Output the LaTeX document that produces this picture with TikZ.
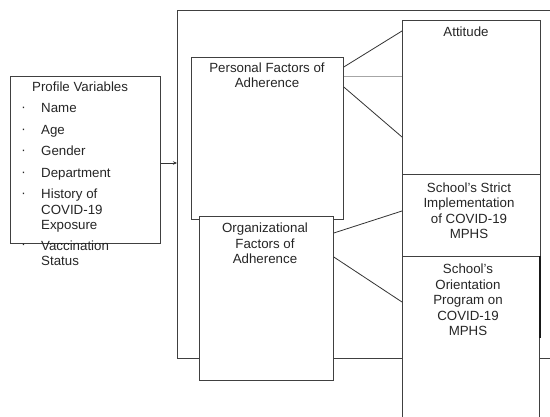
\documentclass[tikz,border=0pt]{standalone}
\usepackage{fontspec}
\setmainfont{Liberation Sans}
\usetikzlibrary{arrows.meta}

\begin{document}
\begin{tikzpicture}[x=1pt, y=-1pt,
    every node/.style={inner sep=0pt, text=black!85, font=\fontsize{13.3pt}{15.6pt}\selectfont},
    box/.style={draw=black!75, line width=0.8pt, fill=white, anchor=north west},
    link/.style={draw=black!80, line width=0.8pt},
    faint/.style={draw=black!35, line width=0.8pt},
    txt/.style={align=center, anchor=base}]
        \clip (0,0) rectangle (550,417);
        \fill[white] (0,0) rectangle (550,417);

        \node[box, minimum width=383, minimum height=348] (outer) at (177,10) {};
        \node[box, minimum width=150, minimum height=167] (prof) at (10,76) {};
        \node[box, minimum width=152, minimum height=162] (pers) at (191,57) {};
        \node[box, minimum width=138, minimum height=154] (att) at (402,20) {};
        \node[box, minimum width=138, minimum height=82] (strict) at (402,174) {};
        \node[box, minimum width=137, minimum height=174] (orient) at (402,256) {};
        \node[box, minimum width=134, minimum height=164] (org) at (199,216) {};
        \draw[draw=black!90, line width=2pt] (orient.north east) -- ([yshift=-82pt]orient.north east);

        \node[anchor=base west] (ptitle) at (32,92) {Profile Variables};
        \foreach \y/\last/\item [count=\i] in {113/113/Name, 134.5/134.5/Age, 156/156/Gender,
                177.5/177.5/Department, 199/230/History of\\COVID-19\\Exposure, 250/266/Vaccination\\Status} {
            \node[anchor=base] (dot\i) at (23.5,\y-1) {\textperiodcentered};
            \node[anchor=base west, align=left] (item\i) at (41,\last) {\item};
        }

        \node[txt] (perstxt) at (267,88) {Personal Factors of\\Adherence};
        \node[txt] (orgtxt) at (265,264) {Organizational\\Factors of\\Adherence};
        \node[txt] (atttxt) at (466,37) {Attitude};
        \node[txt] (stricttxt) at (469,239) {School’s Strict\\Implementation\\of COVID-19\\MPHS};
        \node[txt] (orienttxt) at (468,336) {School’s\\Orientation\\Program on\\COVID-19\\MPHS};

        \coordinate (arr) at ([yshift=-87pt]prof.north east);
        \draw[link, -{Stealth[length=4pt, width=3.5pt]}] (arr) -- (arr -| outer.west);

        \draw[link] ([yshift=-10pt]pers.north east) -- ([yshift=-11pt]att.north west);
        \coordinate (mid) at ([yshift=-19pt]pers.north east);
        \draw[faint] (mid) -- (mid -| att.west);
        \draw[link] ([yshift=-30pt]pers.north east) -- ([yshift=-117pt]att.north west);

        \draw[link] ([yshift=-17pt]org.north east) -- ([yshift=-37pt]strict.north west);
        \draw[link] ([yshift=-41pt]org.north east) -- ([yshift=-46pt]orient.north west);
    \end{tikzpicture}
\end{document}
